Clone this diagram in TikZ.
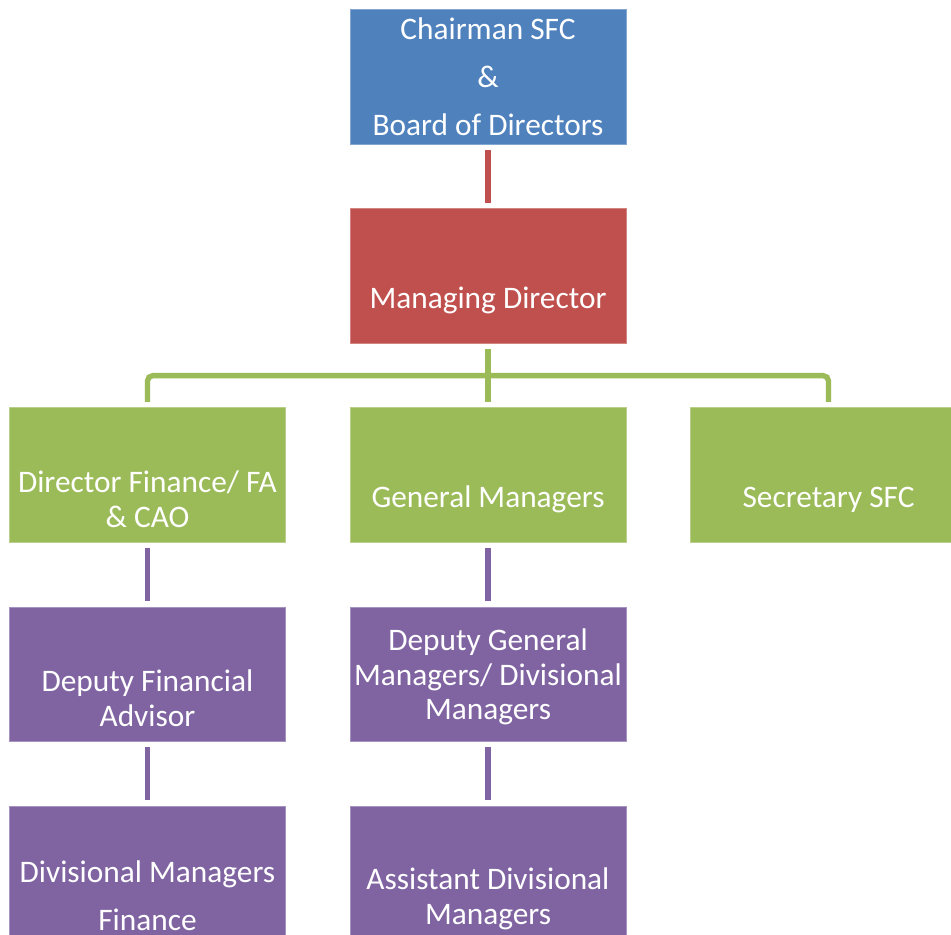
\documentclass[tikz,border=0pt]{standalone}
\usepackage{fontspec}
\setmainfont{Carlito}
\usetikzlibrary{positioning, calc}
\definecolor{ChairBlue}{HTML}{4F81BD}
\definecolor{MDRed}{HTML}{C0504D}
\definecolor{HeadGreen}{HTML}{9BBB59}
\definecolor{StaffPurple}{HTML}{8064A2}

\begin{document}
\begin{tikzpicture}[
  x=0.75pt, y=-0.75pt,
  font=\fontsize{23.5pt}{26pt}\selectfont,
  node distance=48.4pt,
  box/.style={rectangle, minimum width=207pt, minimum height=100.9pt,
              inner sep=0pt, outer sep=0pt, fill=#1, draw=#1!70!white,
              line width=0.6pt},
  boxtext/.style={text=white, align=center, inner sep=0pt},
  link/.style={draw=#1, line width=4pt, shorten <=4.5pt, shorten >=4.5pt}
]
\useasboundingbox (0,0) rectangle (951,935);
\clip (0,0) rectangle (951,935);

\node[box=ChairBlue] (chair) at (488,77) {};
\node[box=MDRed, below=of chair] (md) {};
\node[box=HeadGreen, below=of md] (gm) {};
\node[box=HeadGreen, left=of gm] (dfa) {};
\node[box=HeadGreen, right=of gm] (sec) {};
\node[box=StaffPurple, below=of dfa] (dfadep) {};
\node[box=StaffPurple, below=of dfadep] (divfin) {};
\node[box=StaffPurple, below=of gm] (dgm) {};
\node[box=StaffPurple, below=of dgm] (asst) {};

\node[boxtext] (chairT) at (chair.center)
    {Chairman SFC\\[10pt]\&\\[10pt]Board of Directors};
\node[boxtext] (mdT) at ([yshift=-18.5pt]md.center) {Managing Director};
\node[boxtext] (dfaT) at ([yshift=-18pt]dfa.center) {Director Finance/ FA\\\& CAO};
\node[boxtext] (gmT) at ([yshift=-18.5pt]gm.center) {General Managers};
\node[boxtext] (secT) at ([yshift=-18.5pt]sec.center) {Secretary SFC};
\node[boxtext] (dfadepT) at ([yshift=-18pt]dfadep.center) {Deputy Financial\\Advisor};
\node[boxtext] (dgmT) at ([yshift=-2pt]dgm.center)
    {Deputy General\\Managers/ Divisional\\Managers};
\node[boxtext] (divfinT) at ([yshift=-16.5pt]divfin.center)
    {Divisional Managers\\[10pt]Finance};
\node[boxtext] (asstT) at ([yshift=-19pt]asst.center) {Assistant Divisional\\Managers};

\coordinate (fork) at ($(md.south)!0.5!(gm.north)$);

\draw[link=MDRed] (chair) -- (md);
\draw[link=HeadGreen] (md) -- (gm);
\draw[link=HeadGreen, rounded corners=4pt] (dfa.north) |- (fork) -| (sec.north);
\draw[link=StaffPurple] (dfa) -- (dfadep);
\draw[link=StaffPurple] (dfadep) -- (divfin);
\draw[link=StaffPurple] (gm) -- (dgm);
\draw[link=StaffPurple] (dgm) -- (asst);

\end{tikzpicture}
\end{document}
